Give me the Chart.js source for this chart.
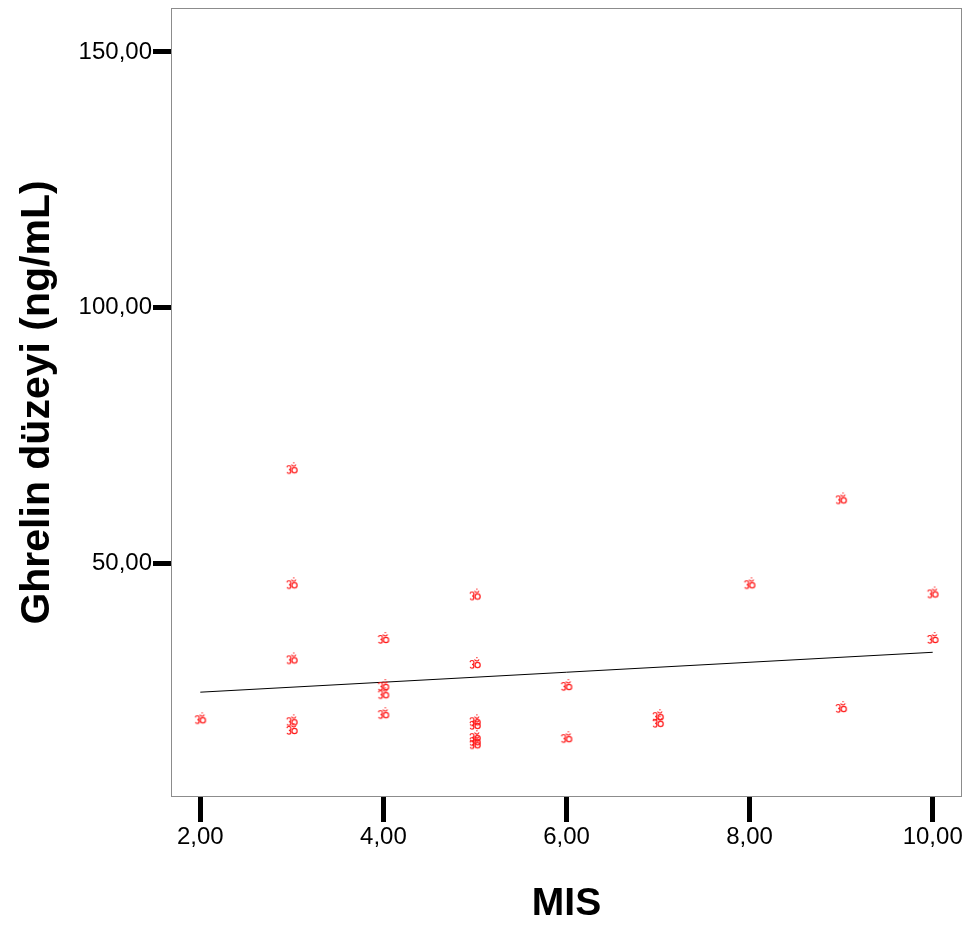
<!DOCTYPE html>
<html>
<head>
<meta charset="utf-8">
<script src="https://cdn.jsdelivr.net/npm/chart.js@4"></script>
<style>
    html, body { margin: 0; padding: 0; background: #fff; }
    #wrap { width: 975px; height: 931px; }
</style>
</head>
<body>
<div id="wrap"><canvas id="chart" width="975" height="931"></canvas></div>
<script>
// --- Data ---
const misValues     = [2, 3, 3, 3, 3, 3, 4, 4, 4, 4, 5, 5, 5, 5, 5, 5, 5, 6, 6, 7, 7, 8, 9, 9, 10, 10];
const ghrelinValues = [19.7, 68.6, 46.1, 31.4, 19.3, 17.6, 35.4, 26.2, 24.6, 20.7,
                       43.9, 30.5, 19.3, 18.6, 16.2, 15.4, 14.8, 26.2, 16.0, 20.3, 19.0,
                       46.1, 62.7, 21.9, 44.3, 35.4];
const fitLineX = [2, 10];
const fitLineY = [24.8, 32.6];
const xTicks = [2, 4, 6, 8, 10];
const yTicks = [50, 100, 150];

const FONT = '"Liberation Sans", Arial, sans-serif';
const RED = '#ff1a1a';

// SPSS draws its markers as a little "om"-like glyph, build it once
function makeMarker() {
    const c = document.createElement('canvas');
    c.width = 14;
    c.height = 14;
    const g = c.getContext('2d');
    g.strokeStyle = RED;
    g.lineWidth = 1.2;
    g.beginPath();
    g.arc(4, 6.5, 2, -0.95 * Math.PI, 0.5 * Math.PI);
    g.stroke();
    g.beginPath();
    g.arc(4, 10.3, 1.9, -0.5 * Math.PI, 0.9 * Math.PI);
    g.stroke();
    g.beginPath();
    g.arc(9.6, 9, 2.6, 0, 2 * Math.PI);
    g.stroke();
    g.beginPath();
    g.arc(8.8, 2.6, 2.3, 0.1 * Math.PI, 0.9 * Math.PI);
    g.stroke();
    g.fillStyle = RED;
    g.fillRect(8.3, 1, 1.2, 1.2);
    return c;
}

const fmt = v => v.toFixed(2).replace('.', ',');

const framePlugin = {
    id: 'frame',
    beforeDatasetsDraw(chart) {
        const { ctx, chartArea: a } = chart;
        ctx.save();
        ctx.strokeStyle = '#8c8c8c';
        ctx.lineWidth = 1;
        ctx.strokeRect(a.left + 0.5, a.top + 0.5, a.right - a.left - 1, a.bottom - a.top - 1);
        ctx.restore();
    }
};

new Chart(document.getElementById('chart'), {
    type: 'scatter',
    data: {
        datasets: [
            {
                label: 'Ghrelin',
                data: misValues.map((x, i) => ({ x, y: ghrelinValues[i] })),
                pointStyle: makeMarker(),
                pointRadius: 7,
                order: 0
            },
            {
                type: 'line',
                label: 'Fit',
                data: fitLineX.map((x, i) => ({ x, y: fitLineY[i] })),
                borderColor: '#000',
                borderWidth: 1,
                pointRadius: 0,
                fill: false,
                order: 1
            }
        ]
    },
    options: {
        responsive: false,
        animation: false,
        events: [],
        layout: { padding: { top: 7, right: 13, left: 0, bottom: 0 } },
        plugins: { legend: { display: false }, tooltip: { enabled: false } },
        scales: {
            x: {
                type: 'linear',
                min: 1.68,
                max: 10.32,
                afterBuildTicks: s => { s.ticks = xTicks.map(v => ({ value: v })); },
                afterFit: s => { s.height = 134; s.paddingLeft = 0; s.paddingRight = 0; },
                border: { display: false },
                grid: { drawOnChartArea: false, drawTicks: true, tickLength: 25, tickWidth: 5, tickColor: '#000' },
                ticks: { color: '#000', font: { family: FONT, size: 24 }, padding: 1, maxRotation: 0, callback: fmt },
                title: { display: true, text: 'MIS', color: '#000', font: { family: FONT, size: 39, weight: 'bold' }, padding: { top: 0, bottom: 3 } }
            },
            y: {
                type: 'linear',
                min: 4.3,
                max: 158.6,
                afterBuildTicks: s => { s.ticks = yTicks.map(v => ({ value: v })); },
                afterFit: s => { s.width = 171; s.paddingTop = 0; s.paddingBottom = 0; },
                border: { display: false },
                grid: { drawOnChartArea: false, drawTicks: true, tickLength: 18, tickWidth: 5, tickColor: '#000' },
                ticks: { color: '#000', font: { family: FONT, size: 24 }, padding: 1, callback: fmt },
                title: { display: true, text: 'Ghrelin düzeyi (ng/mL)', color: '#000', font: { family: FONT, size: 41, weight: 'bold' }, padding: { top: 13, bottom: 0 } }
            }
        }
    },
    plugins: [framePlugin]
});
</script>
</body>
</html>
